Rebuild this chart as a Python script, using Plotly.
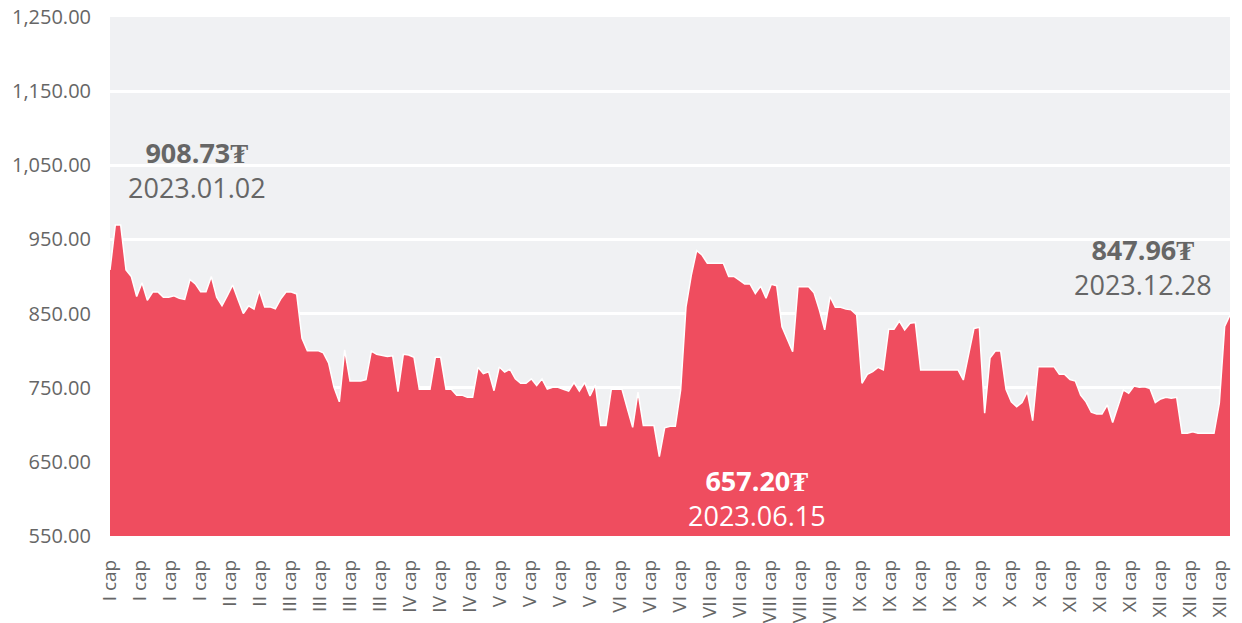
import plotly.graph_objects as go

# Daily exchange rate, 2023 (₮)
rate = [
    908.73, 969.5, 969.5, 909, 900, 873, 891.5, 868, 879, 879,
    872, 872, 874, 870.5, 869, 896, 890, 879.5, 879.5, 900,
    872, 860.5, 874, 888.5, 869, 850, 860.5, 856, 881, 859,
    859, 856.5, 869.5, 879, 879, 876.5, 816.6, 800, 800, 800,
    797, 783, 750.5, 731, 801, 759, 759, 759, 761, 799.5,
    795, 794, 792, 793, 744.6, 795, 794, 791, 748, 748,
    748, 791, 791, 748, 748, 740, 740, 737, 737, 777.5,
    769, 771.5, 746, 778, 771, 775, 762, 756, 756, 762,
    753, 762, 748, 750.5, 750.5, 748, 745.6, 757, 745.6, 757,
    739, 753.7, 699, 699, 748, 748, 748, 722, 696.6, 744,
    699, 699, 699, 657.2, 696, 698, 698, 747, 859, 902,
    935, 929, 918, 918, 918, 918, 900, 900, 895, 890,
    890, 877, 887, 870.6, 889.5, 887.6, 832, 815, 798.6, 886.3,
    886.3, 886.3, 878, 855, 828, 873, 858.5, 858.5, 856, 855,
    848, 756, 768, 771.6, 777.5, 774, 829, 829, 840, 828,
    837, 838, 774, 774, 774, 774, 774, 774, 774, 774,
    760.4, 796, 830, 831.5, 715.5, 790, 799.5, 799.5, 748, 731,
    724.4, 730, 744.6, 705.5, 778.4, 778.4, 778.4, 778.4, 768, 768,
    761, 759, 740, 731, 717, 714.6, 714.6, 726.7, 703, 725,
    747, 742.5, 752.3, 750.5, 751.4, 749, 730, 734.8, 737, 735.7,
    737, 688.5, 688.5, 690.7, 688.5, 688.5, 688.5, 688.5, 729, 832.5,
    847.96,
]

# Month labels along the time axis
month_ticks = (
    ["I сар"] * 4 + ["II сар"] * 2 + ["III сар"] * 4 + ["IV сар"] * 3
    + ["V сар"] * 4 + ["VI сар"] * 3 + ["VII сар"] * 2 + ["VIII сар"] * 3
    + ["IX сар"] * 4 + ["X сар"] * 3 + ["XI сар"] * 3 + ["XII сар"] * 3
)

first_date = "2023.01.02"
min_date = "2023.06.15"
last_date = "2023.12.28"

n = len(rate)
x = list(range(n))
# one month label every 5.625 observations
tick_step = 5.625
tick_pos = [k * tick_step for k in range(len(month_ticks))]

FONT = "Open Sans"
GRAY = "#666666"

fig = go.Figure()
fig.add_trace(go.Scatter(
    x=x, y=rate, mode="lines", fill="tozeroy",
    fillcolor="#ef4d5f", line=dict(color="white", width=1.5),
    hoverinfo="skip",
))

i_min = min(range(n), key=lambda i: rate[i])
marks = [
    (0, first_date, GRAY, 87, 100),
    (i_min, min_date, "white", 98, -41),
    (n - 1, last_date, GRAY, -87, 48),
]
for idx, date, color, dx, dy in marks:
    fig.add_annotation(
        x=idx, y=rate[idx], text=f"<b>{rate[idx]:.2f}₮</b><br>{date}",
        showarrow=False, xshift=dx, yshift=dy,
        xanchor="center", yanchor="middle", align="center",
        font=dict(family=FONT, size=27, color=color),
    )

fig.update_layout(
    width=1242, height=623,
    margin=dict(l=110, r=12, t=17, b=87, pad=0),
    paper_bgcolor="white", plot_bgcolor="#f0f1f3",
    showlegend=False,
    font=dict(family=FONT, color=GRAY),
)
fig.update_xaxes(
    range=[0, n - 1], tickmode="array", tickvals=tick_pos, ticktext=month_ticks,
    tickangle=-90, showgrid=False, zeroline=False, ticks="", automargin=False,
    tickfont=dict(family=FONT, size=19, color=GRAY), ticklabelstandoff=19,
)
fig.update_yaxes(
    range=[550, 1250], tick0=550, dtick=100, tickformat=",.2f",
    gridcolor="white", gridwidth=2.5, zeroline=False, ticks="", automargin=False,
    tickfont=dict(family=FONT, size=20, color=GRAY), ticklabelstandoff=18,
)

fig.write_html("out.html")
